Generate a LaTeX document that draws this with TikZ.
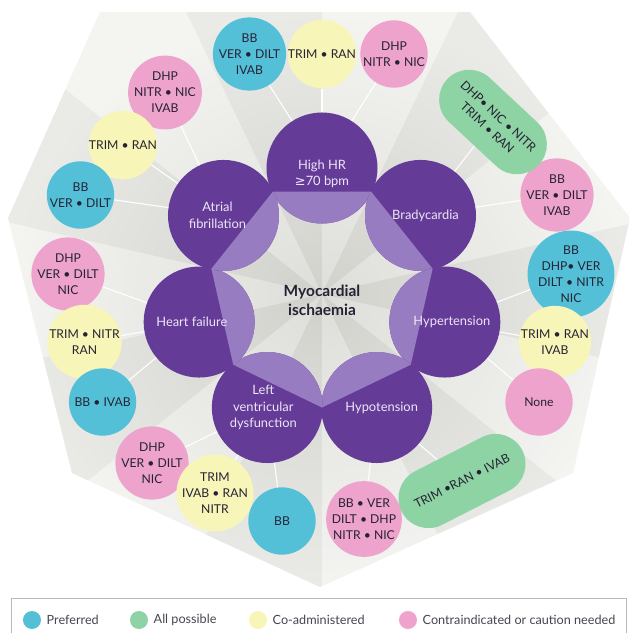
\documentclass[tikz,border=0pt]{standalone}
\usepackage{fontspec}
\setmainfont{Lato}
\newfontfamily\dejavu{DejaVu Sans}
\usetikzlibrary{shapes.misc, positioning}
\definecolor{ischPurple}{RGB}{101, 59, 152}
\definecolor{ischLight}{RGB}{152, 124, 193}
\definecolor{hubText}{RGB}{236, 230, 246}
\definecolor{prefColor}{RGB}{84, 192, 216}
\definecolor{allColor}{RGB}{142, 211, 163}
\definecolor{coColor}{RGB}{248, 245, 184}
\definecolor{cautionColor}{RGB}{238, 163, 204}
\definecolor{inkColor}{RGB}{38, 34, 52}
\definecolor{keyText}{RGB}{70, 70, 80}
\definecolor{bgDark}{RGB}{216, 216, 211}
\definecolor{bgLight}{RGB}{242, 242, 239}
\newcommand{\hepta}{(-222,282) -- (148,282) -- (308,76) -- (251,-179) -- (-2,-293) -- (-250,-179) -- (-314,76) -- cycle}
\newcommand{\bul}{\textbullet}

\begin{document}
\begin{tikzpicture}[x=0.03cm, y=0.03cm,
    hub/.style={circle, fill=ischPurple, minimum size=3.33cm, inner sep=0pt,
        path picture={\fill[ischLight] (v0) -- (v1) -- (v2) -- (v3) -- (v4) -- (v5) -- (v6) -- cycle;}},
    hublabel/.style={align=center, text=hubText, font=\fontsize{11}{14}\selectfont},
    drug/.style={circle, minimum size=2.02cm, inner sep=0pt, align=center, text=inkColor,
        font=\fontsize{10.4}{13.6}\selectfont},
    pill/.style={rounded rectangle, fill=allColor, minimum height=1.8cm, inner sep=2pt, align=center,
        text=inkColor, font=\fontsize{10.4}{13.6}\selectfont},
    link/.style={draw=white, line width=0.9pt},
    keydot/.style={circle, minimum size=0.54cm, inner sep=0pt},
    keytext/.style={font=\fontsize{10.8}{12}\selectfont, text=keyText}]

        \path[use as bounding box, fill=white] (-322,-339) rectangle (309,294);

        % backdrop with folded wedges
        \shade[inner color=bgDark, outer color=bgLight] \hepta;
        \begin{scope}
            \clip \hepta;
            \foreach \k in {0,...,6} {
                \fill[black, opacity=0.03] (0,0) -- ({90+51.4286*\k}:420) -- ({115.714+51.4286*\k}:420) -- cycle;
                \fill[white, opacity=0.16] (0,0) -- ({115.714+51.4286*\k}:420) -- ({141.429+51.4286*\k}:420) -- cycle;
            }
        \end{scope}

        % touching points of neighbouring circles
        \foreach \k in {0,...,6}
            \coordinate (v\k) at ({-90+51.4286*\k}:113.5);

        % 7 condition circles
        \foreach \angle/\id in {90/hhr, 38.571/brady, -12.857/htn, -64.286/hypo,
                                -115.714/lvd, -167.143/hf, 141.429/af}
            \node[hub] (\id) at (\angle:126) {};

        % their labels, pushed a little off the light part
        \node[hublabel, yshift=-0.18cm] (hhr-txt) at (hhr) {High HR\\{\dejavu ≥}70 bpm};
        \node[hublabel, xshift=0.15cm] (brady-txt) at (brady) {Bradycardia};
        \node[hublabel, xshift=0.21cm] (htn-txt) at (htn) {Hypertension};
        \node[hublabel, xshift=0.15cm] (hypo-txt) at (hypo) {Hypotension};
        \node[hublabel, xshift=-0.12cm] (lvd-txt) at (lvd) {Left\\ventricular\\dysfunction};
        \node[hublabel, xshift=-0.22cm] (hf-txt) at (hf) {Heart failure};
        \node[hublabel, xshift=-0.18cm] (af-txt) at (af) {Atrial\\fibrillation};

        % Center
        \node[font=\bfseries\fontsize{13.2}{16.5}\selectfont, text=inkColor, align=center]
              (core) at (0,-6) {Myocardial\\ischaemia};

        % drug circles, three per condition
        \node[drug, fill=prefColor] (hhrA) at (-72.5,240) {BB\\VER \bul{} DILT\\IVAB};
        \node[drug, fill=coColor] (hhrB) at (0,240) {TRIM \bul{} RAN};
        \node[drug, fill=cautionColor] (hhrC) at (72,240) {DHP\\NITR \bul{} NIC};

        \node[drug, fill=cautionColor] (afA) at (-157,201.5) {DHP\\NITR \bul{} NIC\\IVAB};
        \node[drug, fill=coColor] (afB) at (-199,149) {TRIM \bul{} RAN};
        \node[drug, fill=prefColor] (afC) at (-241.5,99) {BB\\VER \bul{} DILT};

        \node[drug, fill=cautionColor] (hfA) at (-254,20) {DHP\\VER \bul{} DILT\\NIC};
        \node[drug, fill=coColor] (hfB) at (-237.5,-48) {TRIM \bul{} NITR\\RAN};
        \node[drug, fill=prefColor] (hfC) at (-219.4,-108) {BB \bul{} IVAB};

        \node[drug, fill=cautionColor] (lvA) at (-170,-169) {DHP\\VER \bul{} DILT\\NIC};
        \node[drug, fill=coColor] (lvB) at (-107,-199) {TRIM\\IVAB \bul{} RAN\\NITR};
        \node[drug, fill=prefColor] (lvC) at (-40,-227) {BB};

        \node[drug, fill=cautionColor] (hoA) at (42,-225) {BB \bul{} VER\\DILT \bul{} DHP\\NITR \bul{} NIC};
        \node[pill, minimum width=4.2cm, rotate=27] (hoB) at (140,-187) {TRIM \bul{}RAN \bul{} IVAB};

        \node[drug, fill=prefColor] (htA) at (249,20) {BB\\DHP\bul{} VER\\DILT \bul{} NITR\\NIC};
        \node[drug, fill=coColor] (htB) at (233,-48) {TRIM \bul{} RAN\\IVAB};
        \node[drug, fill=cautionColor] (htC) at (217,-108) {None};

        \node[drug, fill=cautionColor] (brA) at (235,99) {BB\\VER \bul{} DILT\\IVAB};
        \node[pill, minimum width=3.9cm, rotate=-43] (brB) at (171,172)
              {DHP\bul{} NIC \bul{} NITR\\TRIM \bul{} RAN};

        % spokes
        \foreach \s/\h in {hhrA/hhr, hhrB/hhr, hhrC/hhr, afA/af, afB/af, afC/af,
                           hfA/hf, hfB/hf, hfC/hf, lvA/lvd, lvB/lvd, lvC/lvd,
                           hoA/hypo, hoB/hypo, htA/htn, htB/htn, htC/htn, brA/brady, brB/brady}
            \draw[link] (\s) -- (\h);

        % legend
        \draw[gray!55, line width=0.7pt] (-311,-350) -- (-311,-304) -- (304,-304) -- (304,-350);
        \node[keydot, fill=prefColor] (keyPref) at (-290,-326) {};
        \node[keytext, right=0.04cm of keyPref] (keyPref-txt) {Preferred};
        \node[keydot, fill=allColor] (keyAll) at (-183,-326) {};
        \node[keytext, right=0.04cm of keyAll] (keyAll-txt) {All possible};
        \node[keydot, fill=coColor] (keyCo) at (-64,-326) {};
        \node[keytext, right=0.04cm of keyCo] (keyCo-txt) {Co-administered};
        \node[keydot, fill=cautionColor] (keyCaution) at (86,-326) {};
        \node[keytext, right=0.04cm of keyCaution] (keyCaution-txt) {Contraindicated or caution needed};
\end{tikzpicture}
\end{document}
